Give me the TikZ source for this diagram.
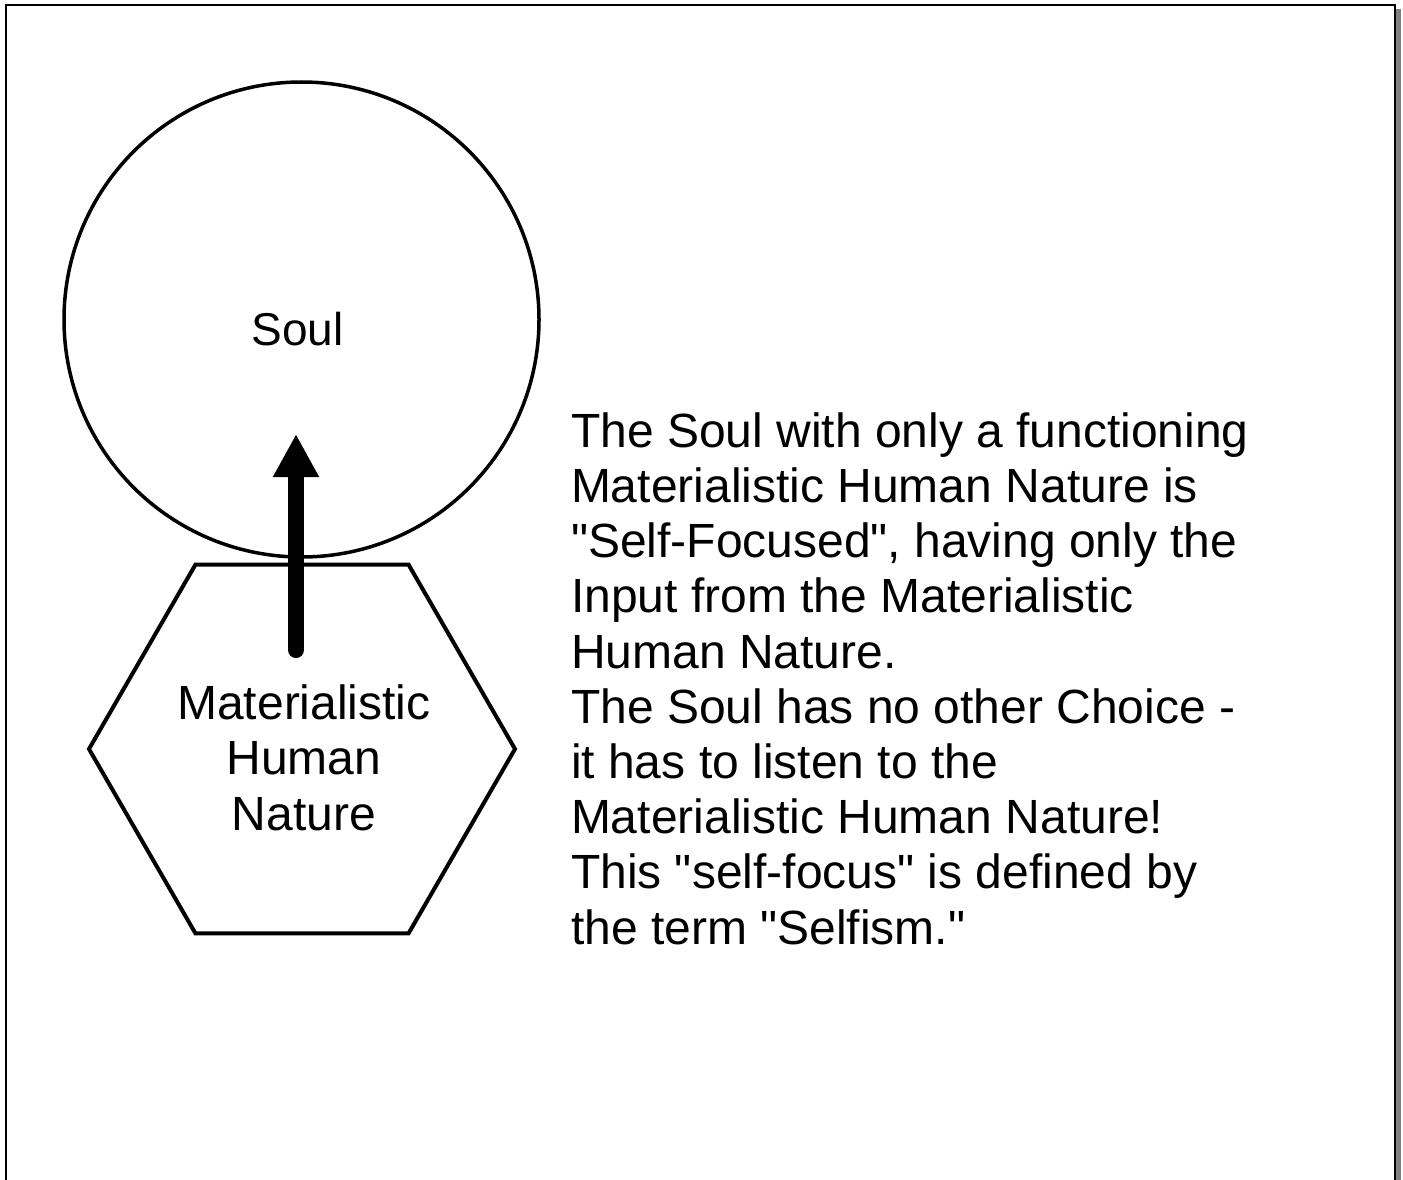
\documentclass[tikz,border=0pt]{standalone}
\usepackage{fontspec}
\setmainfont{Liberation Sans}[Ligatures=TeXOff]
\usetikzlibrary{shapes.geometric,arrows.meta}
\tikzset{
  shapeline/.style={draw=black, fill=none, inner sep=0pt, outer sep=0pt},
  bigtext/.style={font=\fontsize{48}{55.2}\selectfont, inner sep=0pt, outer sep=0pt},
  flowarrow/.style={line width=16pt, line cap=round, -{Triangle[width=43pt,length=43pt]}},
}
\begin{document}
\begin{tikzpicture}[x=1pt,y=-1pt]
\useasboundingbox (0,0) rectangle (1403,1180);
\clip (0,0) rectangle (1403,1180);
% frame with shadow
\fill[black!50] (1395.5,9) rectangle (1400.5,1190);
\draw[line width=2.8pt] (6,1200) -- (6,5) -- (1395,5) -- (1395,1200);
% shapes
\node[shapeline, circle, line width=3.5pt, minimum size=475pt] (soul) at (301.5,319.5) {};
\node[shapeline, regular polygon, regular polygon sides=6,
      line width=4pt, minimum size=426pt] (hex) at (302,749) {};
% texts
\node[bigtext, font=\fontsize{46}{52}\selectfont, anchor=base] (soultext) at (297.5,345) {Soul};
\node[bigtext, anchor=base, align=center] (hextext) at (304,830) {Materialistic\\Human\\Nature};
\node[bigtext, anchor=base west, align=left] (desc) at (571,944) {The Soul with only a functioning\\Materialistic Human Nature is\\"Self-Focused", having only the\\Input from the Materialistic\\Human Nature.\\The Soul has no other Choice -\\it has to listen to the\\Materialistic Human Nature!\\This "self-focus" is defined by\\the term "Selfism."};
% arrow
\coordinate (arrowstart) at (296,650);
\coordinate (arrowtip) at (296,434);
\draw[flowarrow] (arrowstart) -- (arrowtip);
\end{tikzpicture}
\end{document}
